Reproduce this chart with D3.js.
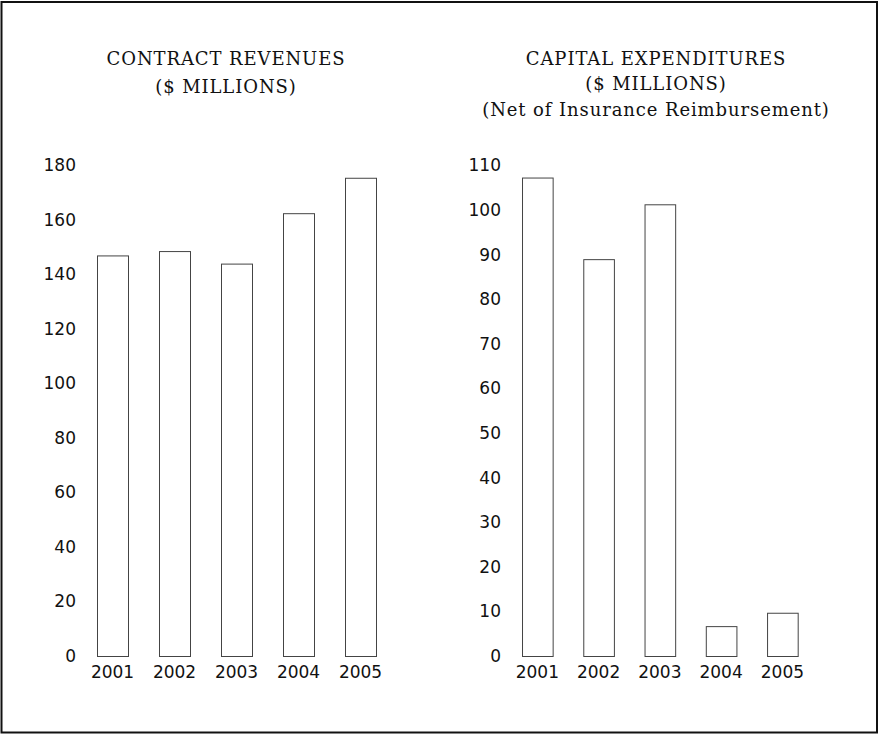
<!DOCTYPE html>
<html>
<head>
<meta charset="utf-8">
<script src="https://cdn.jsdelivr.net/npm/d3@7"></script>
<style>
  html, body { margin: 0; padding: 0; background: #fff; }
  svg { display: block; }
</style>
</head>
<body>
<svg id="chart" width="879" height="735"></svg>
<script>
// Fiscal years shown on both panels
const years = ["2001", "2002", "2003", "2004", "2005"];

// Contract revenues, $ millions
const revenues = [147, 148.6, 144, 162.5, 175.5];
const revenueTicks = [0, 20, 40, 60, 80, 100, 120, 140, 160, 180];

// Capital expenditures net of insurance reimbursement, $ millions
const capex = [107.3, 89, 101.3, 6.7, 9.7];
const capexTicks = [0, 10, 20, 30, 40, 50, 60, 70, 80, 90, 100, 110];

const svg = d3.select("#chart");

// Outer frame
svg.append("rect")
  .attr("x", 1.5).attr("y", 2)
  .attr("width", 875.5).attr("height", 730.5)
  .attr("fill", "none").attr("stroke", "#111").attr("stroke-width", 2);

const numFont = "'DejaVu Sans', sans-serif";
const titleFont = "'DejaVu Serif', serif";

function panel(opts) {
  const g = svg.append("g");

  const x = d3.scaleBand()
    .domain(years)
    .range(opts.xRange)
    .paddingInner(0.5)
    .paddingOuter(0.25);

  const y = d3.scaleLinear()
    .domain([0, opts.max])
    .range([656, 165.5]);

  // Title lines
  g.append("g").selectAll("text")
    .data(opts.title)
    .join("text")
    .attr("x", opts.titleX)
    .attr("y", (d, i) => opts.titleY[i])
    .attr("text-anchor", "middle")
    .attr("font-family", titleFont)
    .attr("font-size", 18)
    .attr("letter-spacing", 0.9)
    .attr("fill", "#111")
    .text(d => d);

  // Value axis: labels only, no line or tick marks
  const yAxis = d3.axisLeft(y)
    .tickValues(opts.ticks)
    .tickSize(0)
    .tickPadding(0);
  const ya = g.append("g")
    .attr("transform", `translate(${opts.yLabelX},0)`)
    .call(yAxis);
  ya.select(".domain").remove();
  ya.selectAll("text")
    .attr("font-family", numFont)
    .attr("font-size", 17)
    .attr("fill", "#111");

  // Year axis beneath the bars
  const xAxis = d3.axisBottom(x).tickSize(0).tickPadding(0);
  const xa = g.append("g")
    .attr("transform", "translate(0,666)")
    .call(xAxis);
  xa.select(".domain").remove();
  xa.selectAll("text")
    .attr("font-family", numFont)
    .attr("font-size", 17)
    .attr("fill", "#111");

  // Outlined bars
  g.append("g").selectAll("rect")
    .data(opts.values)
    .join("rect")
    .attr("x", (d, i) => x(years[i]) + 0.5)
    .attr("y", d => y(d) + 0.5)
    .attr("width", x.bandwidth())
    .attr("height", d => y(0) - y(d))
    .attr("fill", "none")
    .attr("stroke", "#444")
    .attr("stroke-width", 1);
}

panel({
  title: ["CONTRACT REVENUES", "($ MILLIONS)"],
  titleX: 226,
  titleY: [64.5, 93],
  values: revenues,
  max: 180,
  ticks: revenueTicks,
  xRange: [81.5, 391.5],
  yLabelX: 76
});

panel({
  title: ["CAPITAL EXPENDITURES", "($ MILLIONS)", "(Net of Insurance Reimbursement)"],
  titleX: 656,
  titleY: [64.5, 90, 116],
  values: capex,
  max: 110,
  ticks: capexTicks,
  xRange: [506.7, 813],
  yLabelX: 501
});
</script>
</body>
</html>
